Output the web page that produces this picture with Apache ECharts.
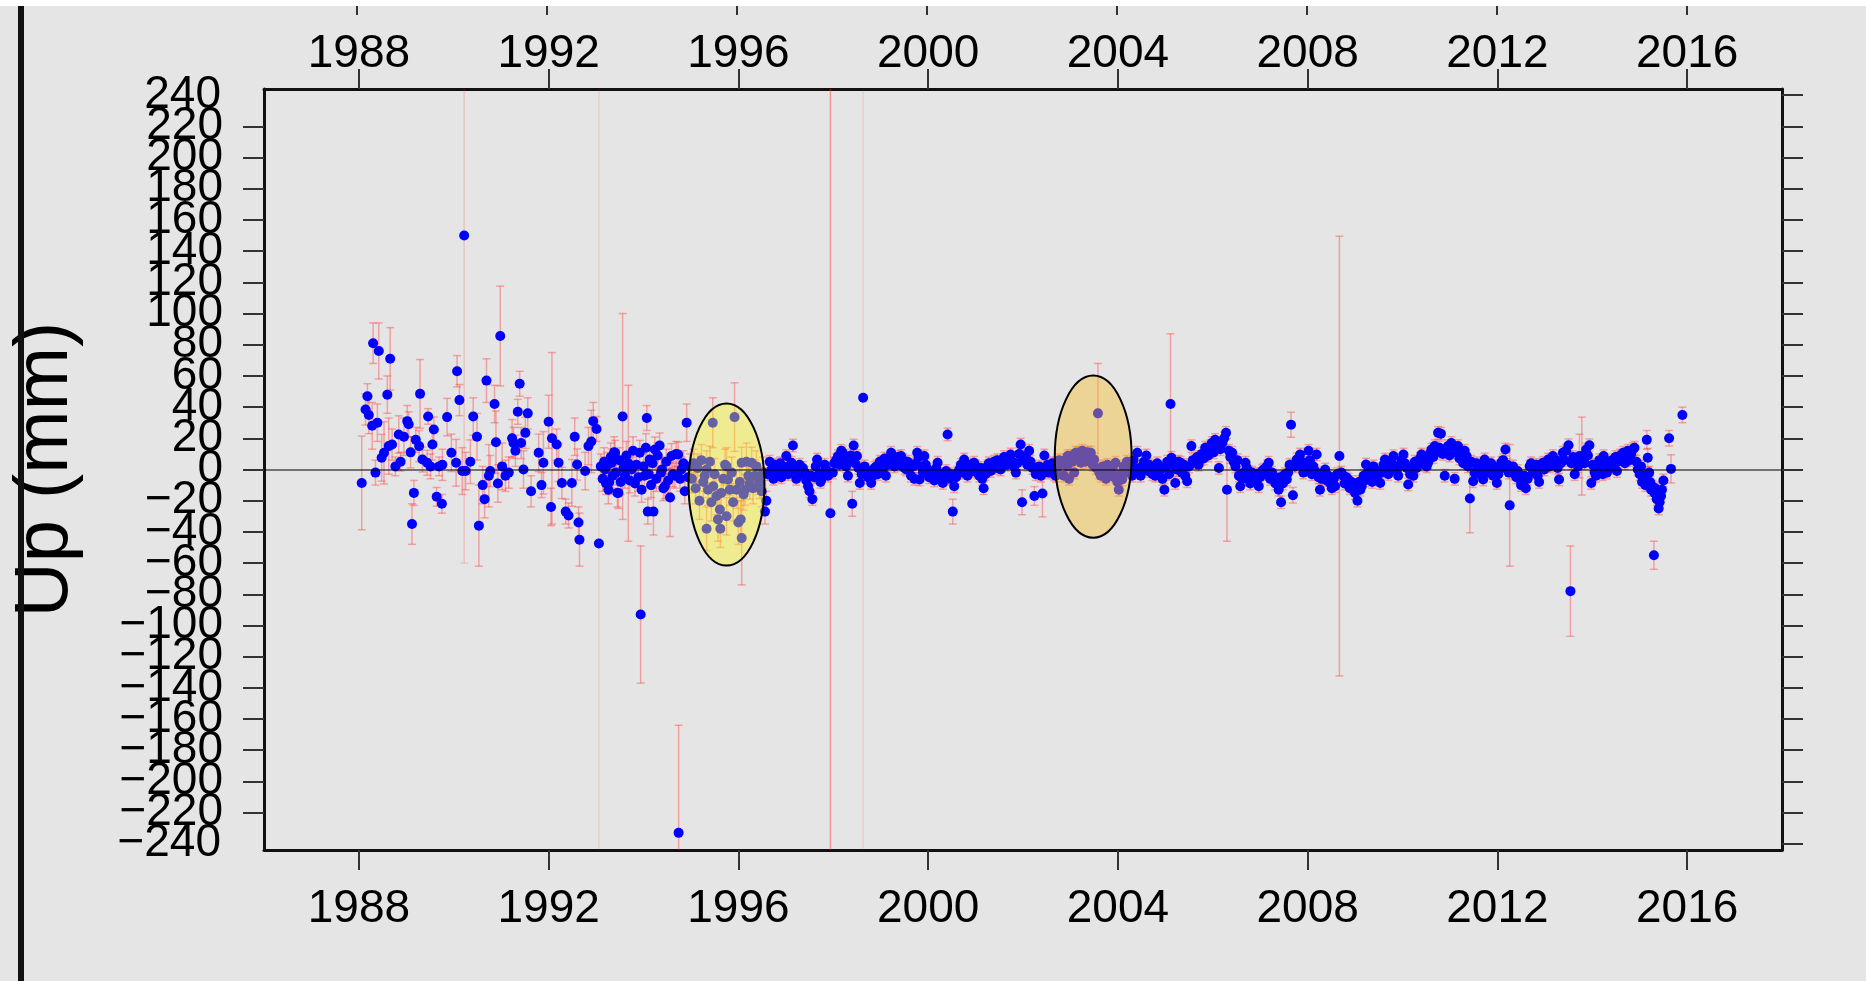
<!DOCTYPE html>
<html>
<head>
<meta charset="utf-8">
<script src="https://cdn.jsdelivr.net/npm/echarts/dist/echarts.min.js"></script>
<style>
  html, body { margin: 0; padding: 0; background: #e5e5e5; }
  #main { width: 1866px; height: 981px; }
</style>
</head>
<body>
<div id="main"></div>
<script>
// tick labels
var yearTicks = [1988, 1992, 1996, 2000, 2004, 2008, 2012, 2016];
var mmTicks = [-240, -220, -200, -180, -160, -140, -120, -100, -80, -60, -40, -20, 0,
    20, 40, 60, 80, 100, 120, 140, 160, 180, 200, 220, 240];
// echarts drops the end labels when they overlap their neighbours, so these two go on their own axis
var mmTicksEnds = [-240, 240];

// observations: [decimal year, up (mm), sigma (mm)]
var campaignObs = [
    [1988.06,-8.6,30],[1988.14,38.5,10],[1988.18,47,8],[1988.21,35,12],[1988.28,28,15],[1988.30,81,13],
    [1988.35,-2,8],[1988.39,30,12],[1988.42,76,18],[1988.48,7.5,15],[1988.53,10.7,20],[1988.60,48,12],
    [1988.63,15,18],[1988.66,71,20],[1988.70,16,10],[1988.77,2,6],[1988.84,22.5,12],[1988.88,5,6],
    [1988.95,21,12],[1989.02,31,10],[1989.05,29,8],[1989.09,11,10],[1989.12,-35,13],[1989.16,-15,8],
    [1989.20,19,8],[1989.27,15,10],[1989.29,48.5,22],[1989.34,6.4,8],[1989.44,4.3,8],[1989.46,34,5],
    [1989.51,2,8],[1989.55,16,10],[1989.58,25.7,8],[1989.64,-17.5,6],[1989.69,2,6],[1989.75,-22,6],
    [1989.76,3,10],[1989.86,33.6,12],[1989.95,10.7,12],[1990.05,4.3,15],[1990.07,63,10],[1990.12,44.5,10],
    [1990.18,-1,15],[1990.22,150,210],[1990.25,-1,12],[1990.35,5,14],[1990.41,34,12],[1990.49,21,15],
    [1990.53,-36,26],[1990.61,-10,12],[1990.65,-19,12],[1990.69,57,14],[1990.74,-4,20],[1990.77,-1,10],
    [1990.86,42,12],[1990.89,17.5,20],[1990.93,-9,12],[1990.98,85.6,32],[1991.02,2,15],[1991.09,-4,10],
    [1991.16,-2,10],[1991.23,20,12],[1991.26,17,10],[1991.30,12,10],[1991.35,37,8],[1991.39,55,8],
    [1991.42,17,10],[1991.47,0,12],[1991.51,23.5,10],[1991.56,36,10],[1991.63,-14,10],[1991.79,10.7,12],
    [1991.85,-10,8],[1991.89,4.3,20],[1992.00,30.6,17],[1992.05,-24,12],[1992.07,20,55],[1992.17,16,10],
    [1992.21,4.3,12],[1992.28,-8.6,10],[1992.36,-27,8],[1992.42,-29.5,8],[1992.49,-8.6,15],[1992.55,21,12],
    [1992.60,3.2,10],[1992.63,-34,10],[1992.65,-45,17],[1992.77,-1,12],[1992.84,15,12],[1992.90,18,20],
    [1992.94,31,12],[1993.01,26,8],[1993.06,-47.5,400]
];

var obs1993 = [
    [1993.10,2,8],[1993.14,-6,8],[1993.17,5,9],[1993.19,0,8],[1993.21,-9,7],[1993.24,3,8],[1993.26,-13,9],
    [1993.28,-8,8],[1993.31,8,9],[1993.33,4.3,9],[1993.35,-4,8],[1993.38,11,10],[1993.40,10.7,8],[1993.42,-2,8],
    [1993.45,-15,9],[1993.47,-15,10],[1993.49,6,8],[1993.52,-8,8],[1993.56,34,66],[1993.58,1,8],[1993.61,-4,8],
    [1993.64,9,9],[1993.68,4,50],[1993.71,-7,8],[1993.75,0,8],[1993.78,12,9],[1993.82,-9,8],[1993.85,3,8],
    [1993.89,-5,9],[1993.92,10.7,8],[1993.94,-93,44],[1993.96,-13,8],[1994.00,2,8],[1994.02,-4,7],[1994.05,14,9],
    [1994.07,33,8],[1994.09,-27,8],[1994.11,-3,8],[1994.13,6.4,7],[1994.16,-10,8],[1994.19,4,8],[1994.21,-27,15],
    [1994.24,12.8,8],[1994.27,-6,8],[1994.30,9,8],[1994.34,15.4,8],[1994.37,-2,9],[1994.39,0,8],[1994.42,-12,8],
    [1994.45,-10.7,8],[1994.48,5,8],[1994.52,-7,8],[1994.56,-18,25],[1994.59,8.6,8],[1994.62,-3,8],[1994.66,-4,8],
    [1994.69,10,8],[1994.73,9.6,8],[1994.74,-233,69],[1994.77,-6,8],[1994.80,0,8],[1994.84,4,8],[1994.87,-14,8],
    [1994.91,30,12],[1994.94,-5,8],[1994.98,2,8],
    [1995.02,-6,9],[1995.06,4,9],[1995.10,-12,10],[1995.14,1,9],[1995.18,-20,12],[1995.22,6,10],[1995.26,-8,10],
    [1995.29,-4,10],[1995.33,0,12],[1995.33,-38,14],[1995.36,-13,10],[1995.40,5,10],[1995.43,-21,12],[1995.46,30,16],
    [1995.47,-10.7,10],[1995.50,-3,10],[1995.54,-17,12],[1995.57,-32,14],[1995.61,-25.7,12],[1995.62,-38,12],
    [1995.64,-15,10],[1995.68,-6,10],[1995.72,3,10],[1995.75,2,12],[1995.75,-30,12],[1995.78,-6.4,10],
    [1995.82,-13,10],[1995.86,-2,10],[1995.89,-21,12],[1995.92,33.6,22],[1995.96,-13,12],[1996.00,-34,14],
    [1996.03,-8,10],[1996.05,-32,12],[1996.07,-44,30],[1996.07,4.3,10],[1996.11,-16,10],[1996.14,-13,10],
    [1996.17,5,12],[1996.21,-4,10],[1996.24,-9,10],[1996.28,4.3,10],[1996.31,-12,10],[1996.35,-4,10],
    [1996.38,2,10],[1996.42,-6,10],[1996.45,-8.6,10],[1996.49,-14,10],[1996.52,-2,10],[1996.56,-27,8],[1996.59,-20,6]
];

var obs1997 = [
    [1996.62,-3,4],[1996.66,5,4],[1996.70,0,4],[1996.74,-6,4],[1996.77,3,4],[1996.81,-2,4],[1996.84,-4,4],
    [1996.88,4,4],[1996.91,-5,4],[1996.94,2,4],[1996.98,-1,4],[1997.01,8.6,4],[1997.05,-3,4],[1997.08,2,4],
    [1997.12,4.3,4],[1997.15,15.4,4],[1997.19,0,4],[1997.22,-6,4],[1997.26,-4,4],[1997.29,3,4],[1997.33,-2,4],
    [1997.36,1,4],[1997.40,-2,4],[1997.43,-7,4],[1997.47,-10.7,4],[1997.50,-14,4],[1997.53,-4,4],[1997.56,-19,4],
    [1997.60,-5,4],[1997.63,2,4],[1997.66,6.4,4],[1997.70,-3,4],[1997.73,-8,4],[1997.75,-6.4,4],[1997.79,-2,4],
    [1997.82,3,4],[1997.85,0,4],[1997.89,-4,4],[1997.94,-28,350],[1997.99,-2,4],[1998.02,4,4],[1998.06,6,4],
    [1998.10,8.6,4],[1998.13,3,4],[1998.17,12,4],[1998.20,10.7,4],[1998.24,6,4],[1998.27,2,4],[1998.31,-4,4],
    [1998.34,5,4],[1998.37,9,4],[1998.40,-22,8],[1998.43,15.4,4],[1998.46,4,4],[1998.50,8.6,4],[1998.53,1,4],
    [1998.56,-8.6,4],[1998.60,-3,4],[1998.63,46,600],[1998.66,2,4],[1998.69,0,4],[1998.73,-5,4],[1998.76,-2,4],
    [1998.80,-8.6,4],[1998.84,-4,4],[1998.87,1,4],[1998.91,2,4],[1998.94,-3,4],[1998.98,5,4],[1999.01,4.3,4],
    [1999.05,1,4],[1999.08,7,4],[1999.11,-4,4],[1999.15,3,4],[1999.18,6,4],[1999.22,10.7,4],[1999.25,5,4],
    [1999.29,2,4],[1999.33,4.3,4],[1999.36,8,4],[1999.40,3,4],[1999.43,8.6,4],[1999.47,6,4],[1999.50,1,4],
    [1999.54,0,4],[1999.57,5,4],[1999.61,3,4],[1999.64,-4,4],[1999.68,2,4],[1999.71,-6,4],[1999.74,4,4],
    [1999.77,10.7,4],[1999.80,8,4],[1999.82,-6.4,4],[1999.86,2,4],[1999.89,-2,4],[1999.92,8.6,4],[1999.95,3,4],
    [1999.99,0,4],[2000.02,-5,4],[2000.06,-2,4],[2000.10,-4,4],[2000.13,-7,4],[2000.17,1,4],[2000.20,4.3,4],
    [2000.24,-3,4],[2000.27,-6,4],[2000.31,-8.6,4],[2000.34,-4,4],[2000.38,-1,4],[2000.41,22.5,4],[2000.44,-6,4],
    [2000.48,-3,4],[2000.52,-27,8],[2000.55,-10.7,4],[2000.59,-5,4],[2000.62,-2,4],[2000.66,0,4],[2000.69,3,4],
    [2000.73,-2,4],[2000.76,6.4,4],[2000.80,1,4],[2000.83,-4,4],[2000.87,0,4],[2000.90,3,4],[2000.94,-1,4],
    [2000.97,4.3,4],[2001.01,2,4],[2001.04,-2,4],[2001.08,-4,4],[2001.11,1,4],[2001.14,-6,4],[2001.17,-12,4],
    [2001.21,-3,4],[2001.25,2,4],[2001.28,4,4],[2001.32,-1,4],[2001.35,3,4],[2001.39,5,4],[2001.42,1,4],
    [2001.46,6,4],[2001.49,2,4],[2001.53,0,4],[2001.56,4,4],[2001.60,8,4],[2001.64,6.4,4],[2001.67,3,4],
    [2001.71,7,4],[2001.74,9.6,4],[2001.78,5,4],[2001.81,2,4],[2001.85,-2,4],[2001.88,4,4],[2001.92,10,4],
    [2001.95,16,4],[2001.98,-21,8],[2002.02,6,4],[2002.06,8.6,4],[2002.09,3,4],[2002.13,12,4],[2002.16,5,4],
    [2002.20,1,4],[2002.24,-17,6],[2002.27,-3,4],[2002.31,0,4],[2002.34,2,4],[2002.38,-4,4],[2002.41,-15.4,15],
    [2002.45,9,4],[2002.48,-1,4],[2002.52,3,4],[2002.55,-2,4],[2002.59,0,4],[2002.62,4,4],[2002.66,-3,4],
    [2002.69,-4,4],[2002.73,1,4],[2002.76,6,4]
];

var obs2003 = [
    [2002.83,4.3,4],[2002.86,-4,4],[2002.90,6,4],[2002.93,2,4],[2002.94,8.6,4],[2002.97,-6,4],[2003.00,8.6,4],
    [2003.04,5,4],[2003.08,-2,4],[2003.11,10.7,4],[2003.15,10.7,4],[2003.18,7,4],[2003.22,4.3,4],[2003.25,12,4],
    [2003.29,8.6,4],[2003.32,5,4],[2003.36,11,4],[2003.40,7,4],[2003.43,10.7,4],[2003.47,3,4],[2003.50,6.4,4],
    [2003.54,1,4],[2003.58,36,32],[2003.61,-2,4],[2003.64,-4,4],[2003.68,2,4],[2003.71,0,4],[2003.75,-6,4],
    [2003.78,3,4],[2003.82,-3,4],[2003.85,-2,4],[2003.89,1,4],[2003.92,-5,4],[2003.95,4.3,4],[2003.99,-8,4],
    [2004.02,-13,4],[2004.05,-3,4],[2004.09,-6.4,4],[2004.12,2,4],[2004.16,-2,4],[2004.19,5,4],[2004.23,0,4],
    [2004.26,3,4],[2004.30,-4,4],[2004.33,6,4],[2004.37,1,4],[2004.41,10.7,4],[2004.44,-2,4],[2004.48,-4,4],
    [2004.51,2,4],[2004.55,5,4],[2004.60,9,4],[2004.63,-1,4],[2004.66,3,4],[2004.69,2,4],[2004.73,-3,4],
    [2004.76,1,4],[2004.79,-4,4],[2004.83,4,4],[2004.86,-2,4],[2004.90,0,4],[2004.94,-6,4],[2004.98,-13,4],
    [2005.01,2,4],[2005.04,5,4],[2005.08,-3,4],[2005.11,42,45],[2005.13,7.5,4],[2005.17,3,4],[2005.21,-8.6,4],
    [2005.24,0,4],[2005.28,5,4],[2005.32,4.3,4],[2005.35,-2,4],[2005.39,3,4],[2005.42,-4,4],[2005.46,-7.5,4],
    [2005.50,2,4],[2005.55,15,4],[2005.58,6,4],[2005.63,4.3,4],[2005.67,8,4],[2005.70,3,4],[2005.74,6.4,4],
    [2005.77,10,4],[2005.81,7,4],[2005.84,14,4],[2005.88,12.8,4],[2005.91,9,4],[2005.95,15,4],[2005.98,17,4],
    [2006.02,11,4],[2006.05,19,4],[2006.09,15,4],[2006.13,1,4],[2006.16,13,4],[2006.20,17,4],[2006.24,20,4],
    [2006.28,23.5,4],[2006.30,-13,33],[2006.34,12,4],[2006.37,8,4],[2006.41,10.7,4],[2006.44,5,4],[2006.48,2,4],
    [2006.52,6,4],[2006.55,-4,4],[2006.58,-10.7,4],[2006.62,-6,4],[2006.65,-2,4],[2006.69,4.3,4],[2006.72,1,4],
    [2006.76,-6.4,4],[2006.79,-9,4],[2006.83,-2,4],[2006.86,-4,4],[2006.90,-7,4],[2006.93,-3,4],[2006.97,-10.7,4],
    [2007.00,-5,4],[2007.04,-1,4],[2007.07,0,4],[2007.11,-3,4],[2007.14,2,4],[2007.18,4.3,4],[2007.21,-6,4],
    [2007.25,-2,4],[2007.28,-4,4],[2007.32,-9,4],[2007.35,-7,4],[2007.39,-13,4],[2007.42,-5,4],[2007.44,-21,4],
    [2007.48,-9,4],[2007.52,-3,4],[2007.56,-6.4,4],[2007.59,-2,4],[2007.62,3,4],[2007.65,28.7,8],[2007.69,-16.5,5],
    [2007.73,2,4],[2007.77,6.4,4],[2007.80,3,4],[2007.84,9.6,4],[2007.88,5,4],[2007.91,-2,4],[2007.95,0,4],
    [2007.98,4,4],[2008.02,12,4],[2008.05,6,4],[2008.09,-3,4],[2008.12,2,4],[2008.16,-1,4],[2008.19,9.6,4],
    [2008.23,-5,4],[2008.26,-13,4],[2008.30,-6,4],[2008.33,-2,4],[2008.37,0,4],[2008.40,-7,4],[2008.44,-4,4],
    [2008.47,-8.6,4],[2008.51,-12,4],[2008.55,-6,4],[2008.58,-10.7,4],[2008.62,-3,4],[2008.67,8.6,141],
    [2008.71,-2,4],[2008.75,-4,4],[2008.78,-9,4],[2008.82,-5,4],[2008.86,-6.4,4],[2008.89,-12,4],[2008.93,-8,4],
    [2008.96,-10.7,4],[2009.00,-15,4],[2009.05,-20,4],[2009.08,-8,4],[2009.11,-13,4],[2009.14,-10.7,4],[2009.18,-4,4],
    [2009.21,-7,4],[2009.23,3.2,4],[2009.27,-2,4],[2009.30,1,4],[2009.32,-4,4],[2009.36,-8,4],[2009.39,2,4],
    [2009.42,0,4],[2009.46,-5,4],[2009.49,-3,4],[2009.53,-8.6,4],[2009.56,-2,4],[2009.60,3,4],[2009.63,6.4,4],
    [2009.67,1,4],[2009.70,-3,4],[2009.74,0,4],[2009.77,4,4],[2009.81,8.6,4],[2009.84,2,4],[2009.88,-1,4],
    [2009.91,-4,4],[2009.95,3,4],[2009.98,6,4]
];

var obs2010 = [
    [2010.02,9.6,4],[2010.05,4,4],[2010.09,1,4],[2010.12,-9.6,4],[2010.16,-3,4],[2010.19,2,4],[2010.23,-4,4],
    [2010.26,5,4],[2010.30,1,4],[2010.33,4.3,4],[2010.37,7,4],[2010.40,9.6,4],[2010.44,8.6,4],[2010.47,3,4],
    [2010.51,2,4],[2010.54,4.3,4],[2010.58,10,4],[2010.61,12.8,4],[2010.65,8,4],[2010.68,15,4],[2010.72,11,4],
    [2010.75,23.5,4],[2010.78,14,4],[2010.81,23,4],[2010.85,10,4],[2010.89,-4,4],[2010.92,12,4],[2010.96,15,4],
    [2010.99,9,4],[2011.03,17,4],[2011.06,11,4],[2011.10,-6,4],[2011.13,13,4],[2011.17,15,4],[2011.20,7,4],
    [2011.24,10.7,4],[2011.28,4,4],[2011.31,12,4],[2011.35,8.6,4],[2011.38,2,4],[2011.42,-18.6,22],[2011.45,5,4],
    [2011.49,-7.5,4],[2011.52,-2,4],[2011.56,4,4],[2011.59,2,4],[2011.63,-3,4],[2011.66,0,4],[2011.70,-6.4,4],
    [2011.73,6.4,4],[2011.77,3,4],[2011.80,-2,4],[2011.84,0,4],[2011.87,4,4],[2011.91,-4,4],[2011.95,-1,4],
    [2011.99,-8.6,4],[2012.02,-3,4],[2012.05,2,4],[2012.08,4.3,4],[2012.12,6,4],[2012.15,1,4],[2012.17,12.8,4],
    [2012.21,3,4],[2012.24,-2,4],[2012.26,-23,39],[2012.30,0,4],[2012.33,2,4],[2012.37,-3,4],[2012.40,-5,4],
    [2012.43,-1,4],[2012.47,-6,4],[2012.50,-10,4],[2012.54,-8.6,4],[2012.57,-4,4],[2012.60,-12,4],[2012.64,-6,4],
    [2012.68,2,4],[2012.71,4,4],[2012.75,-2,4],[2012.78,0,4],[2012.82,3,4],[2012.85,-4,4],[2012.88,-8,4],
    [2012.92,1,4],[2012.96,4.3,4],[2012.99,0,4],[2013.03,3,4],[2013.07,6.4,4],[2013.10,2,4],[2013.14,5,4],
    [2013.17,8.6,4],[2013.21,3,4],[2013.24,6,4],[2013.27,1,4],[2013.30,-6.4,4],[2013.34,4,4],[2013.38,10.7,4],
    [2013.41,6,4],[2013.45,12,4],[2013.50,15.6,4],[2013.54,-78,29],[2013.56,4,4],[2013.60,8,4],[2013.63,-3,4],
    [2013.67,5,4],[2013.70,2,4],[2013.73,8.6,14],[2013.78,8.6,25],[2013.80,6,4],[2013.84,4,4],[2013.87,12.8,4],
    [2013.91,9,4],[2013.94,15.6,4],[2013.98,-8.6,4],[2014.01,3,4],[2014.05,-2,4],[2014.08,-4,4],[2014.12,2,4],
    [2014.15,6,4],[2014.19,0,4],[2014.22,-3,4],[2014.24,8.6,4],[2014.28,4,4],[2014.31,-2,4],[2014.35,3,4],
    [2014.38,1,4],[2014.42,6,4],[2014.45,4.3,4],[2014.49,8,4],[2014.52,-1,4],[2014.55,5,4],[2014.59,9,4],
    [2014.62,7,4],[2014.65,10.7,4],[2014.69,4,4],[2014.72,8,4],[2014.75,12,4],[2014.79,6,4],[2014.82,10,4],
    [2014.86,13,4],[2014.89,14,4],[2014.93,5,4],[2014.96,0,4],[2015.00,-3,4],[2015.03,2,4],[2015.05,-8,4],
    [2015.09,-4,4],[2015.12,-10,4],[2015.15,19,6],[2015.17,7.5,6],[2015.20,-2,4],[2015.22,-8,4],[2015.24,-13,4],
    [2015.27,-11,4],[2015.30,-55,9],[2015.31,-15,4],[2015.33,-12,4],[2015.36,-19,4],[2015.38,-14,4],[2015.40,-25,4],
    [2015.42,-21,4],[2015.45,-17,4],[2015.47,-13,4],[2015.50,-7,4],[2015.62,20,5],[2015.66,0.4,9],[2015.90,35,5]
];

// highlighted periods: [centre year, centre up, half width (yr), half height (mm)]
var ellipses = [[1995.75, -9.6, 0.8, 52], [2003.48, 8.2, 0.81, 52]];
var ellipseFills = ['rgba(255,246,20,0.40)', 'rgba(246,189,41,0.42)'];

var allObs = campaignObs.concat(obs1993, obs1997, obs2003, obs2010);

var fontFamily = 'Liberation Sans, Arial, Helvetica, sans-serif';

var myChart = echarts.init(document.getElementById('main'));

// very large sigmas get a fainter bar, like the weighting in the original plot
function barAlpha(sigma) {
    if (sigma >= 400) return 0.12;
    if (sigma >= 300) return 0.45;
    if (sigma >= 150) return 0.18;
    return 0.38;
}

function renderErrorBar(params, api) {
    var t = api.value(0);
    var lo = api.value(1), hi = api.value(2);
    var top = api.coord([t, hi]);
    var bot = api.coord([t, lo]);
    var cap = 4;
    var style = { stroke: 'rgba(255,50,50,' + barAlpha((hi - lo) / 2) + ')', lineWidth: 1.5 };
    return {
        type: 'group',
        children: [
            { type: 'line', shape: { x1: top[0], y1: top[1], x2: bot[0], y2: bot[1] }, style: style },
            { type: 'line', shape: { x1: top[0] - cap, y1: top[1], x2: top[0] + cap, y2: top[1] }, style: style },
            { type: 'line', shape: { x1: bot[0] - cap, y1: bot[1], x2: bot[0] + cap, y2: bot[1] }, style: style }
        ]
    };
}

function renderEllipse(params, api) {
    var c = api.coord([api.value(0), api.value(1)]);
    var s = api.size([api.value(2), api.value(3)]);
    return {
        type: 'ellipse',
        shape: { cx: c[0], cy: c[1], rx: s[0], ry: s[1] },
        style: { fill: ellipseFills[params.dataIndex], stroke: '#000', lineWidth: 2 }
    };
}

function mmLabel(v) {
    return v < 0 ? '\u2212' + (-v) : String(v);
}

var xAxisBase = {
    type: 'value',
    min: 1986,
    max: 2018,
    splitLine: { show: false },
    axisLine: { show: true, onZero: false, lineStyle: { color: '#111', width: 3 } },
    axisTick: { show: true, customValues: yearTicks, length: 20, lineStyle: { color: '#333', width: 2 } },
    axisLabel: {
        customValues: yearTicks,
        fontSize: 46,
        fontFamily: fontFamily,
        color: '#000',
        formatter: function (v) { return String(v); }
    }
};

var yAxisBase = {
    type: 'value',
    min: -244,
    max: 244,
    splitLine: { show: false },
    axisLine: { show: true, onZero: false, lineStyle: { color: '#111', width: 3 } },
    axisTick: { show: true, customValues: mmTicks, length: 21, lineStyle: { color: '#333', width: 2 } }
};

var mmLabelStyle = {
    fontSize: 46,
    fontFamily: fontFamily,
    color: '#000',
    margin: 41,
    formatter: mmLabel
};

option = {
    backgroundColor: '#e5e5e5',
    animation: false,
    grid: [
        { left: 262, right: 84, top: 89, bottom: 131 },
        // strip at the very top: tick stubs of the panel above
        { left: 262, right: 84, top: 0, height: 15 },
        // same box as the main grid, only carries the two end labels
        { left: 262, right: 84, top: 89, bottom: 131 }
    ],
    xAxis: [
        echarts.util.merge({ position: 'bottom', axisLabel: { margin: 36 } }, xAxisBase, false),
        echarts.util.merge({ position: 'top', axisLabel: { margin: 12 } }, xAxisBase, false),
        echarts.util.merge({
            gridIndex: 1,
            position: 'bottom',
            axisLine: { show: false },
            axisTick: { inside: true, length: 9 },
            axisLabel: { show: false }
        }, xAxisBase, false),
        { type: 'value', gridIndex: 2, min: 1986, max: 2018, show: false }
    ],
    yAxis: [
        echarts.util.merge({
            position: 'left',
            axisLabel: echarts.util.merge({ customValues: mmTicks }, mmLabelStyle, false),
            name: 'Up (mm)',
            nameLocation: 'middle',
            nameRotate: 90,
            nameGap: 218,
            nameTextStyle: { fontSize: 76, fontFamily: fontFamily, color: '#000', verticalAlign: 'middle' }
        }, yAxisBase, false),
        echarts.util.merge({ position: 'right', axisLabel: { show: false } }, yAxisBase, false),
        { type: 'value', gridIndex: 1, min: 0, max: 1, show: false },
        {
            type: 'value',
            gridIndex: 2,
            position: 'left',
            min: -244,
            max: 244,
            splitLine: { show: false },
            axisLine: { show: false },
            axisTick: { show: false },
            axisLabel: echarts.util.merge({ customValues: mmTicksEnds }, mmLabelStyle, false)
        }
    ],
    graphic: [
        { type: 'rect', left: 0, top: 0, z: 100, shape: { width: 1866, height: 6 }, style: { fill: '#ffffff' } },
        { type: 'rect', left: 18, top: 6, z: 100, shape: { width: 6, height: 975 }, style: { fill: '#111111' } }
    ],
    series: [
        {
            name: 'sigma',
            type: 'custom',
            clip: true,
            z: 1,
            renderItem: renderErrorBar,
            encode: { x: 0, y: [1, 2] },
            data: allObs.map(function (o) { return [o[0], o[1] - o[2], o[1] + o[2]]; })
        },
        {
            name: 'up',
            type: 'scatter',
            z: 2,
            symbol: 'circle',
            symbolSize: 10,
            itemStyle: { color: '#0000ff', opacity: 1 },
            data: allObs.map(function (o) { return [o[0], o[1]]; })
        },
        {
            name: 'zero',
            type: 'line',
            z: 4,
            data: [],
            markLine: {
                silent: true,
                symbol: ['none', 'none'],
                label: { show: false },
                lineStyle: { color: 'rgba(0,0,0,0.5)', width: 2, type: 'solid' },
                data: [{ yAxis: 0 }]
            }
        },
        {
            name: 'highlight',
            type: 'custom',
            z: 3,
            renderItem: renderEllipse,
            encode: { x: 0, y: 1 },
            data: ellipses
        }
    ]
};

myChart.setOption(option);
</script>
</body>
</html>
